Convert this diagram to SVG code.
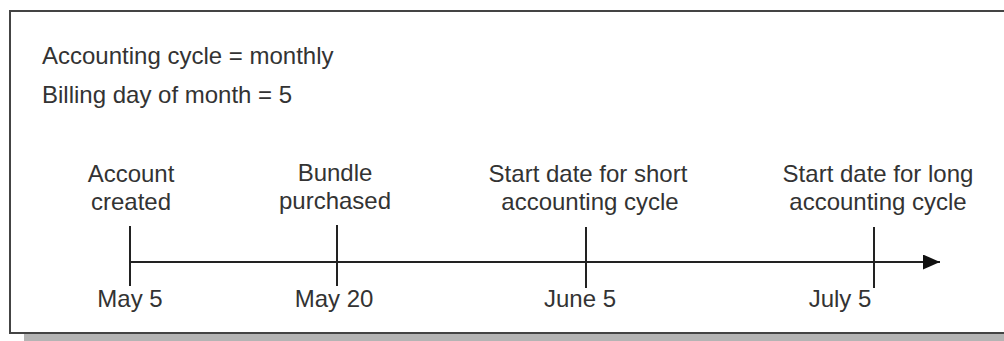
<svg xmlns="http://www.w3.org/2000/svg" width="1004" height="341" viewBox="0 0 1004 341">
<style>
  text { font-family: "Liberation Sans", Arial, sans-serif; font-size: 24px; fill: #333; }
  .c { text-anchor: middle; }
  .tick { stroke: #222; stroke-width: 2; }
  .axis { stroke: #222; stroke-width: 2; fill: none; }
</style>
<defs>
  <marker id="arr" markerWidth="17" markerHeight="15" refX="17" refY="7.5" orient="auto" markerUnits="userSpaceOnUse">
    <polygon points="0,0 17,7.5 0,15" fill="#111"/>
  </marker>
</defs>
<rect x="24" y="25" width="1010" height="316" fill="#b4b4b4"/>
<rect x="10" y="11" width="1010" height="322" fill="#fff" stroke="#444" stroke-width="2"/>
<g id="header">
  <text x="42" y="64">Accounting cycle = monthly</text>
  <text x="42" y="103">Billing day of month = 5</text>
</g>
<g id="connectors">
  <line class="axis" x1="130" y1="262" x2="940" y2="262" marker-end="url(#arr)"/>
</g>
<g id="may5">
  <line class="tick" x1="130" y1="226" x2="130" y2="286"/>
  <text class="c" x="131" y="182">Account</text>
  <text class="c" x="131" y="210">created</text>
  <text class="c" x="130" y="307">May 5</text>
</g>
<g id="may20">
  <line class="tick" x1="337" y1="225" x2="337" y2="286"/>
  <text class="c" x="335" y="181">Bundle</text>
  <text class="c" x="335" y="209">purchased</text>
  <text class="c" x="334" y="307">May 20</text>
</g>
<g id="june5">
  <line class="tick" x1="586" y1="227" x2="586" y2="288"/>
  <text class="c" x="588" y="182">Start date for short</text>
  <text class="c" x="590" y="210">accounting cycle</text>
  <text class="c" x="580" y="307">June 5</text>
</g>
<g id="july5">
  <line class="tick" x1="874" y1="227" x2="874" y2="288"/>
  <text class="c" x="878" y="182">Start date for long</text>
  <text class="c" x="878" y="210">accounting cycle</text>
  <text class="c" x="840" y="307">July 5</text>
</g>
</svg>
